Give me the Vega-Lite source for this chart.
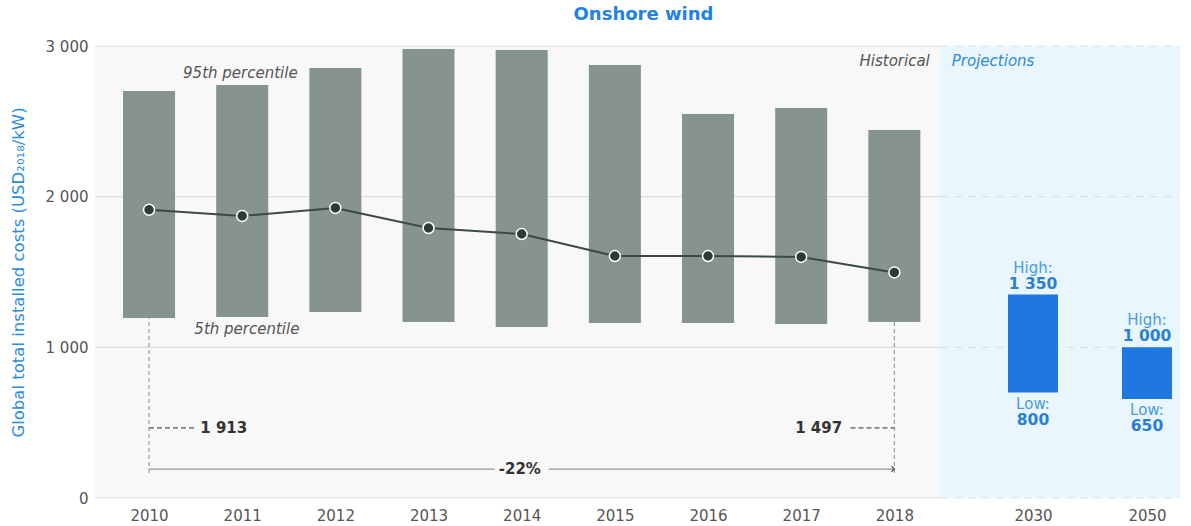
{
  "$schema": "https://vega.github.io/schema/vega-lite/v6.json",
  "width": 1085,
  "height": 452,
  "autosize": "none",
  "padding": {"left": 95, "top": 46, "right": 11, "bottom": 28},
  "background": "white",
  "title": {"text": "Onshore wind", "color": "#1E82E6", "fontSize": 18, "fontWeight": "bold", "font": "DejaVu Sans", "anchor": "middle", "offset": 15, "dx": 6},
  "config": {
    "view": {"stroke": null},
    "font": "DejaVu Sans",
    "scale": {"continuousPadding": 0},
    "axis": {"labelFont": "DejaVu Sans", "labelColor": "#555555", "labelFontSize": 15, "ticks": false, "domain": false, "grid": false}
  },
  "datasets": {
    "hist": [
      {"year": 2010, "p5": 1195, "p95": 2701, "avg": 1913},
      {"year": 2011, "p5": 1201, "p95": 2741, "avg": 1872},
      {"year": 2012, "p5": 1234, "p95": 2854, "avg": 1925},
      {"year": 2013, "p5": 1168, "p95": 2980, "avg": 1792},
      {"year": 2014, "p5": 1135, "p95": 2973, "avg": 1752},
      {"year": 2015, "p5": 1161, "p95": 2874, "avg": 1606},
      {"year": 2016, "p5": 1161, "p95": 2549, "avg": 1606},
      {"year": 2017, "p5": 1155, "p95": 2588, "avg": 1600},
      {"year": 2018, "p5": 1168, "p95": 2442, "avg": 1497}
    ],
    "proj": [
      {"year": 2030, "bar_low": 700, "low": 800, "high": 1350, "low_label": "800", "high_label": "1 350"},
      {"year": 2050, "bar_low": 657, "low": 650, "high": 1000, "low_label": "650", "high_label": "1 000"}
    ],
    "grid": [{"v": 0}, {"v": 1000}, {"v": 2000}, {"v": 3000}],
    "one": [{}]
  },
  "layer": [
    {
      "data": {"name": "one"},
      "mark": {"type": "rect", "color": "#F8F8F8"},
      "encoding": {
        "x": {"datum": 2009.42, "type": "quantitative", "title": null,
              "scale": {"type": "linear", "domain": [2009.42, 2018.49, 2030, 2050, 2055.8], "range": [0, 845, 938, 1052, 1085], "nice": false, "zero": false, "padding": 0},
              "axis": {"values": [2010, 2011, 2012, 2013, 2014, 2015, 2016, 2017, 2018, 2030, 2050], "format": "d", "labelPadding": 10}},
        "x2": {"datum": 2018.49},
        "y": {"datum": 0, "type": "quantitative", "title": "Global total installed costs (USD₂₀₁₈/kW)",
              "scale": {"domain": [0, 3000], "nice": false, "zero": true, "padding": 0},
              "axis": {"values": [0, 1000, 2000, 3000], "labelExpr": "replace(format(datum.value, ','), ',', ' ')", "labelPadding": 7, "titleColor": "#2A8CE0", "titleFontSize": 16.5, "titleFontWeight": "normal", "titleX": -77, "titleY": 226, "titleAngle": 270, "titleAlign": "center", "titleBaseline": "middle"}},
        "y2": {"datum": 3000}
      }
    },
    {
      "data": {"name": "one"},
      "mark": {"type": "rect", "color": "#E9F6FD"},
      "encoding": {
        "x": {"datum": 2018.49, "type": "quantitative", "title": null, "scale": {"type": "linear", "domain": [2009.42, 2018.49, 2030, 2050, 2055.8], "range": [0, 845, 938, 1052, 1085], "nice": false, "zero": false, "padding": 0}},
        "x2": {"datum": 2055.8},
        "y": {"datum": 0, "type": "quantitative", "title": "Global total installed costs (USD₂₀₁₈/kW)"},
        "y2": {"datum": 3000}
      }
    },
    {
      "data": {"name": "grid"},
      "mark": {"type": "rule", "color": "#DEDEDE", "strokeWidth": 1.2},
      "encoding": {
        "x": {"datum": 2009.42, "type": "quantitative", "title": null, "scale": {"type": "linear", "domain": [2009.42, 2018.49, 2030, 2050, 2055.8], "range": [0, 845, 938, 1052, 1085], "nice": false, "zero": false, "padding": 0}},
        "x2": {"datum": 2018.49},
        "y": {"field": "v", "type": "quantitative", "title": "Global total installed costs (USD₂₀₁₈/kW)"}
      }
    },
    {
      "data": {"name": "grid"},
      "mark": {"type": "rule", "color": "#DCE3E7", "strokeWidth": 1.2, "strokeDash": [8, 6]},
      "encoding": {
        "x": {"datum": 2018.49, "type": "quantitative", "title": null, "scale": {"type": "linear", "domain": [2009.42, 2018.49, 2030, 2050, 2055.8], "range": [0, 845, 938, 1052, 1085], "nice": false, "zero": false, "padding": 0}},
        "x2": {"datum": 2055.8},
        "y": {"field": "v", "type": "quantitative", "title": "Global total installed costs (USD₂₀₁₈/kW)"}
      }
    },
    {
      "data": {"name": "hist"},
      "mark": {"type": "bar", "color": "#86938F", "width": 52},
      "encoding": {
        "x": {"field": "year", "type": "quantitative", "title": null, "scale": {"type": "linear", "domain": [2009.42, 2018.49, 2030, 2050, 2055.8], "range": [0, 845, 938, 1052, 1085], "nice": false, "zero": false, "padding": 0}},
        "y": {"field": "p5", "type": "quantitative", "title": "Global total installed costs (USD₂₀₁₈/kW)"},
        "y2": {"field": "p95"}
      }
    },
    {
      "data": {"name": "proj"},
      "mark": {"type": "bar", "color": "#1E78E0", "width": 50},
      "encoding": {
        "x": {"field": "year", "type": "quantitative", "title": null, "scale": {"type": "linear", "domain": [2009.42, 2018.49, 2030, 2050, 2055.8], "range": [0, 845, 938, 1052, 1085], "nice": false, "zero": false, "padding": 0}},
        "y": {"field": "bar_low", "type": "quantitative", "title": "Global total installed costs (USD₂₀₁₈/kW)"},
        "y2": {"field": "high"}
      }
    },
    {
      "data": {"name": "one"},
      "mark": {"type": "rule", "color": "#8C8C8C", "strokeWidth": 1, "strokeDash": [4, 3]},
      "encoding": {
        "x": {"datum": 2010, "type": "quantitative", "title": null, "scale": {"type": "linear", "domain": [2009.42, 2018.49, 2030, 2050, 2055.8], "range": [0, 845, 938, 1052, 1085], "nice": false, "zero": false, "padding": 0}},
        "y": {"datum": 166, "type": "quantitative", "title": "Global total installed costs (USD₂₀₁₈/kW)"},
        "y2": {"datum": 1913}
      }
    },
    {
      "data": {"name": "one"},
      "mark": {"type": "rule", "color": "#8C8C8C", "strokeWidth": 1, "strokeDash": [4, 3]},
      "encoding": {
        "x": {"datum": 2018, "type": "quantitative", "title": null, "scale": {"type": "linear", "domain": [2009.42, 2018.49, 2030, 2050, 2055.8], "range": [0, 845, 938, 1052, 1085], "nice": false, "zero": false, "padding": 0}},
        "y": {"datum": 166, "type": "quantitative", "title": "Global total installed costs (USD₂₀₁₈/kW)"},
        "y2": {"datum": 1497}
      }
    },
    {
      "data": {"name": "one"},
      "mark": {"type": "rule", "color": "#555555", "strokeWidth": 1.2, "strokeDash": [5, 3]},
      "encoding": {
        "x": {"datum": 2010, "type": "quantitative", "title": null, "scale": {"type": "linear", "domain": [2009.42, 2018.49, 2030, 2050, 2055.8], "range": [0, 845, 938, 1052, 1085], "nice": false, "zero": false, "padding": 0}},
        "x2": {"datum": 2010.49},
        "y": {"datum": 465, "type": "quantitative", "title": "Global total installed costs (USD₂₀₁₈/kW)"}
      }
    },
    {
      "data": {"name": "one"},
      "mark": {"type": "rule", "color": "#555555", "strokeWidth": 1.2, "strokeDash": [5, 3]},
      "encoding": {
        "x": {"datum": 2017.53, "type": "quantitative", "title": null, "scale": {"type": "linear", "domain": [2009.42, 2018.49, 2030, 2050, 2055.8], "range": [0, 845, 938, 1052, 1085], "nice": false, "zero": false, "padding": 0}},
        "x2": {"datum": 2018},
        "y": {"datum": 465, "type": "quantitative", "title": "Global total installed costs (USD₂₀₁₈/kW)"}
      }
    },
    {
      "data": {"name": "one"},
      "mark": {"type": "rule", "color": "#8E9995", "strokeWidth": 1.3},
      "encoding": {
        "x": {"datum": 2010, "type": "quantitative", "title": null, "scale": {"type": "linear", "domain": [2009.42, 2018.49, 2030, 2050, 2055.8], "range": [0, 845, 938, 1052, 1085], "nice": false, "zero": false, "padding": 0}},
        "x2": {"datum": 2013.71},
        "y": {"datum": 192, "type": "quantitative", "title": "Global total installed costs (USD₂₀₁₈/kW)"}
      }
    },
    {
      "data": {"name": "one"},
      "mark": {"type": "rule", "color": "#8E9995", "strokeWidth": 1.3},
      "encoding": {
        "x": {"datum": 2014.29, "type": "quantitative", "title": null, "scale": {"type": "linear", "domain": [2009.42, 2018.49, 2030, 2050, 2055.8], "range": [0, 845, 938, 1052, 1085], "nice": false, "zero": false, "padding": 0}},
        "x2": {"datum": 2018},
        "y": {"datum": 192, "type": "quantitative", "title": "Global total installed costs (USD₂₀₁₈/kW)"}
      }
    },
    {
      "data": {"name": "one"},
      "mark": {"type": "point", "shape": "M-1,-1L0,0L-1,1", "filled": false, "stroke": "#555555", "strokeWidth": 1.3, "size": 30, "opacity": 1},
      "encoding": {
        "x": {"datum": 2018, "type": "quantitative", "title": null, "scale": {"type": "linear", "domain": [2009.42, 2018.49, 2030, 2050, 2055.8], "range": [0, 845, 938, 1052, 1085], "nice": false, "zero": false, "padding": 0}},
        "y": {"datum": 192, "type": "quantitative", "title": "Global total installed costs (USD₂₀₁₈/kW)"}
      }
    },
    {
      "data": {"name": "hist"},
      "mark": {"type": "line", "color": "#3D4946", "strokeWidth": 2},
      "encoding": {
        "x": {"field": "year", "type": "quantitative", "title": null, "scale": {"type": "linear", "domain": [2009.42, 2018.49, 2030, 2050, 2055.8], "range": [0, 845, 938, 1052, 1085], "nice": false, "zero": false, "padding": 0}},
        "y": {"field": "avg", "type": "quantitative", "title": "Global total installed costs (USD₂₀₁₈/kW)"}
      }
    },
    {
      "data": {"name": "hist"},
      "mark": {"type": "point", "filled": true, "fill": "#2F3A37", "stroke": "#FFFFFF", "strokeWidth": 1.5, "size": 120, "opacity": 1},
      "encoding": {
        "x": {"field": "year", "type": "quantitative", "title": null, "scale": {"type": "linear", "domain": [2009.42, 2018.49, 2030, 2050, 2055.8], "range": [0, 845, 938, 1052, 1085], "nice": false, "zero": false, "padding": 0}},
        "y": {"field": "avg", "type": "quantitative", "title": "Global total installed costs (USD₂₀₁₈/kW)"}
      }
    },
    {
      "data": {"name": "one"},
      "mark": {"type": "text", "text": "95th percentile", "fontStyle": "italic", "fontSize": 15, "color": "#555555", "align": "center", "baseline": "middle"},
      "encoding": {
        "x": {"datum": 2010.98, "type": "quantitative", "title": null, "scale": {"type": "linear", "domain": [2009.42, 2018.49, 2030, 2050, 2055.8], "range": [0, 845, 938, 1052, 1085], "nice": false, "zero": false, "padding": 0}},
        "y": {"datum": 2821, "type": "quantitative", "title": "Global total installed costs (USD₂₀₁₈/kW)"}
      }
    },
    {
      "data": {"name": "one"},
      "mark": {"type": "text", "text": "5th percentile", "fontStyle": "italic", "fontSize": 15, "color": "#555555", "align": "center", "baseline": "middle"},
      "encoding": {
        "x": {"datum": 2011.05, "type": "quantitative", "title": null, "scale": {"type": "linear", "domain": [2009.42, 2018.49, 2030, 2050, 2055.8], "range": [0, 845, 938, 1052, 1085], "nice": false, "zero": false, "padding": 0}},
        "y": {"datum": 1122, "type": "quantitative", "title": "Global total installed costs (USD₂₀₁₈/kW)"}
      }
    },
    {
      "data": {"name": "one"},
      "mark": {"type": "text", "text": "Historical", "fontStyle": "italic", "fontSize": 15, "color": "#555555", "align": "right", "baseline": "middle"},
      "encoding": {
        "x": {"datum": 2018.38, "type": "quantitative", "title": null, "scale": {"type": "linear", "domain": [2009.42, 2018.49, 2030, 2050, 2055.8], "range": [0, 845, 938, 1052, 1085], "nice": false, "zero": false, "padding": 0}},
        "y": {"datum": 2900, "type": "quantitative", "title": "Global total installed costs (USD₂₀₁₈/kW)"}
      }
    },
    {
      "data": {"name": "one"},
      "mark": {"type": "text", "text": "Projections", "fontStyle": "italic", "fontSize": 15, "color": "#2E8BDB", "align": "left", "baseline": "middle"},
      "encoding": {
        "x": {"datum": 2019.95, "type": "quantitative", "title": null, "scale": {"type": "linear", "domain": [2009.42, 2018.49, 2030, 2050, 2055.8], "range": [0, 845, 938, 1052, 1085], "nice": false, "zero": false, "padding": 0}},
        "y": {"datum": 2900, "type": "quantitative", "title": "Global total installed costs (USD₂₀₁₈/kW)"}
      }
    },
    {
      "data": {"name": "one"},
      "mark": {"type": "text", "text": "1 913", "fontWeight": "bold", "fontSize": 15, "color": "#333333", "align": "left", "baseline": "middle"},
      "encoding": {
        "x": {"datum": 2010.55, "type": "quantitative", "title": null, "scale": {"type": "linear", "domain": [2009.42, 2018.49, 2030, 2050, 2055.8], "range": [0, 845, 938, 1052, 1085], "nice": false, "zero": false, "padding": 0}},
        "y": {"datum": 465, "type": "quantitative", "title": "Global total installed costs (USD₂₀₁₈/kW)"}
      }
    },
    {
      "data": {"name": "one"},
      "mark": {"type": "text", "text": "1 497", "fontWeight": "bold", "fontSize": 15, "color": "#333333", "align": "right", "baseline": "middle"},
      "encoding": {
        "x": {"datum": 2017.44, "type": "quantitative", "title": null, "scale": {"type": "linear", "domain": [2009.42, 2018.49, 2030, 2050, 2055.8], "range": [0, 845, 938, 1052, 1085], "nice": false, "zero": false, "padding": 0}},
        "y": {"datum": 465, "type": "quantitative", "title": "Global total installed costs (USD₂₀₁₈/kW)"}
      }
    },
    {
      "data": {"name": "one"},
      "mark": {"type": "text", "text": "-22%", "fontWeight": "bold", "fontSize": 15, "color": "#333333", "align": "center", "baseline": "middle"},
      "encoding": {
        "x": {"datum": 2013.98, "type": "quantitative", "title": null, "scale": {"type": "linear", "domain": [2009.42, 2018.49, 2030, 2050, 2055.8], "range": [0, 845, 938, 1052, 1085], "nice": false, "zero": false, "padding": 0}},
        "y": {"datum": 192, "type": "quantitative", "title": "Global total installed costs (USD₂₀₁₈/kW)"}
      }
    },
    {
      "data": {"name": "proj"},
      "mark": {"type": "text", "text": "High:", "fontSize": 15, "color": "#4A9BE3", "align": "center", "baseline": "middle", "dy": -27},
      "encoding": {
        "x": {"field": "year", "type": "quantitative", "title": null, "scale": {"type": "linear", "domain": [2009.42, 2018.49, 2030, 2050, 2055.8], "range": [0, 845, 938, 1052, 1085], "nice": false, "zero": false, "padding": 0}},
        "y": {"field": "high", "type": "quantitative", "title": "Global total installed costs (USD₂₀₁₈/kW)"}
      }
    },
    {
      "data": {"name": "proj"},
      "mark": {"type": "text", "fontSize": 15.5, "fontWeight": "bold", "color": "#2A7FD8", "align": "center", "baseline": "middle", "dy": -11},
      "encoding": {
        "x": {"field": "year", "type": "quantitative", "title": null, "scale": {"type": "linear", "domain": [2009.42, 2018.49, 2030, 2050, 2055.8], "range": [0, 845, 938, 1052, 1085], "nice": false, "zero": false, "padding": 0}},
        "y": {"field": "high", "type": "quantitative", "title": "Global total installed costs (USD₂₀₁₈/kW)"},
        "text": {"field": "high_label"}
      }
    },
    {
      "data": {"name": "proj"},
      "mark": {"type": "text", "text": "Low:", "fontSize": 15, "color": "#4A9BE3", "align": "center", "baseline": "middle", "dy": 11},
      "encoding": {
        "x": {"field": "year", "type": "quantitative", "title": null, "scale": {"type": "linear", "domain": [2009.42, 2018.49, 2030, 2050, 2055.8], "range": [0, 845, 938, 1052, 1085], "nice": false, "zero": false, "padding": 0}},
        "y": {"field": "bar_low", "type": "quantitative", "title": "Global total installed costs (USD₂₀₁₈/kW)"}
      }
    },
    {
      "data": {"name": "proj"},
      "mark": {"type": "text", "fontSize": 15.5, "fontWeight": "bold", "color": "#2A7FD8", "align": "center", "baseline": "middle", "dy": 27},
      "encoding": {
        "x": {"field": "year", "type": "quantitative", "title": null, "scale": {"type": "linear", "domain": [2009.42, 2018.49, 2030, 2050, 2055.8], "range": [0, 845, 938, 1052, 1085], "nice": false, "zero": false, "padding": 0}},
        "y": {"field": "bar_low", "type": "quantitative", "title": "Global total installed costs (USD₂₀₁₈/kW)"},
        "text": {"field": "low_label"}
      }
    }
  ]
}
